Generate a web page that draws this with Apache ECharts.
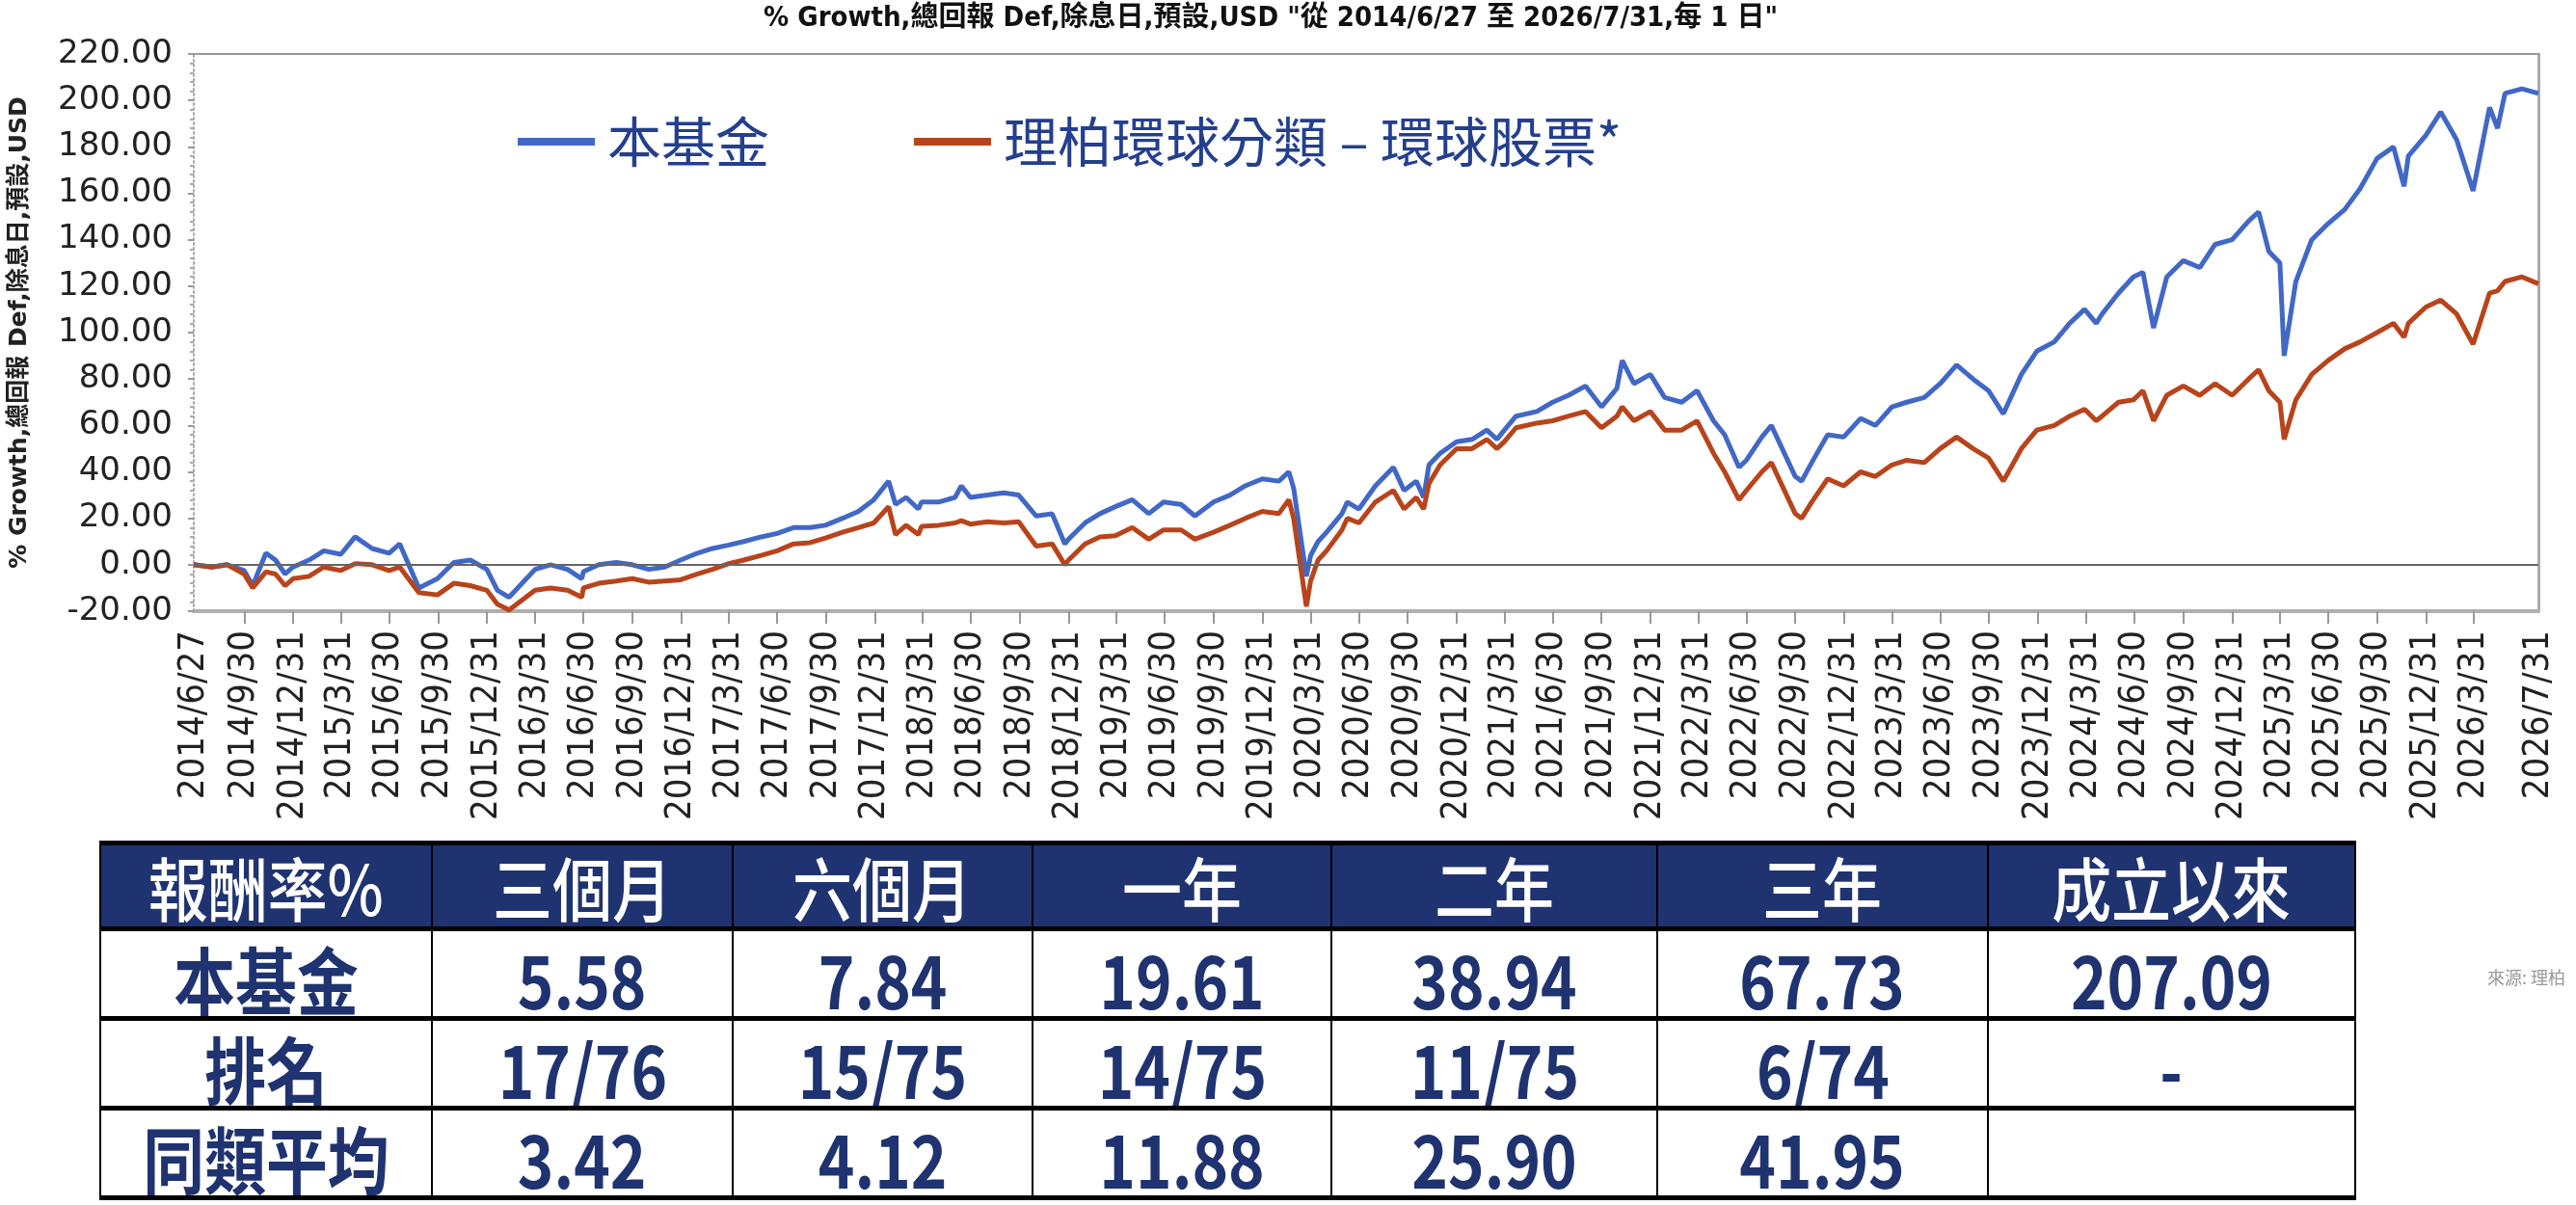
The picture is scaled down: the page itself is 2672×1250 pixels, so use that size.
<!DOCTYPE html>
<html>
<head>
<meta charset="utf-8">
<script src="https://cdn.jsdelivr.net/npm/echarts@6/dist/echarts.min.js"></script>
<style>
  html,body{margin:0;padding:0;background:#fff;}
  #wrap{position:relative;width:2672px;height:1250px;overflow:hidden;}
  #chart{position:absolute;left:0;top:0;width:2672px;height:1250px;}
  #tbl{position:absolute;left:103px;top:872px;border-collapse:collapse;table-layout:fixed;width:2339px;
       font-family:"Noto Sans CJK TC","Noto Sans CJK SC",sans-serif;}
  #tbl td{border-left:2px solid #000;border-right:2px solid #000;border-top:5px solid #000;border-bottom:5px solid #000;
          text-align:center;vertical-align:middle;padding:0;line-height:1;overflow:hidden;white-space:nowrap;}
  #tbl td span{display:inline-block;}
  #tbl tr.h td{background:#1f3370;color:#fff;font-size:72px;font-weight:500;height:84px;}
  #tbl tr.h td span{transform:scaleX(0.86);}
  #tbl tr.b td{background:#fff;color:#1f3370;font-size:76px;font-weight:700;height:88px;}
  #tbl tr.b td span{transform:translateY(4px) scaleX(0.84);}
  #src{position:absolute;left:2580px;top:1000px;font-family:"Noto Sans CJK TC",sans-serif;font-size:18px;color:#999;}
</style>
</head>
<body>
<div id="wrap">
  <div id="chart"></div>
  <table id="tbl"></table>
  <div id="src">來源: 理柏</div>
</div>
<script>
// ---------- data ----------
const seriesNames = ['本基金', '理柏環球分類 – 環球股票*'];
const dates = [
 '2014/6/27','2014/7/31','2014/8/29','2014/9/30','2014/10/16','2014/11/10','2014/11/28','2014/12/16','2014/12/31',
 '2015/1/30','2015/2/27','2015/3/31','2015/4/27','2015/5/29','2015/6/30','2015/7/20','2015/8/25','2015/9/29','2015/10/30','2015/11/30','2015/12/31',
 '2016/1/20','2016/2/11','2016/3/31','2016/4/29','2016/5/31','2016/6/27','2016/6/30','2016/7/29','2016/8/31','2016/9/30','2016/10/31','2016/11/30','2016/12/30',
 '2017/1/31','2017/2/28','2017/3/31','2017/4/28','2017/5/31','2017/6/30','2017/7/31','2017/8/31','2017/9/29','2017/10/31','2017/11/30','2017/12/29',
 '2018/1/26','2018/2/8','2018/2/28','2018/3/23','2018/3/29','2018/4/30','2018/5/31','2018/6/12','2018/6/29','2018/7/31','2018/8/31','2018/9/28','2018/10/31','2018/11/30','2018/12/24','2018/12/31',
 '2019/1/31','2019/2/28','2019/3/29','2019/4/30','2019/5/31','2019/6/28','2019/7/31','2019/8/26','2019/9/30','2019/10/31','2019/11/29','2019/12/31',
 '2020/1/31','2020/2/19','2020/2/28','2020/3/23','2020/3/31','2020/4/14','2020/4/30','2020/5/29','2020/6/8','2020/6/30','2020/7/31','2020/9/3','2020/9/23','2020/10/16','2020/10/30','2020/11/9','2020/11/30','2020/12/31',
 '2021/1/29','2021/2/26','2021/3/17','2021/3/31','2021/4/22','2021/5/31','2021/6/30','2021/7/30','2021/8/31','2021/9/30','2021/10/29','2021/11/8','2021/11/30','2021/12/31',
 '2022/1/27','2022/2/28','2022/3/29','2022/4/29','2022/5/20','2022/6/16','2022/6/30','2022/7/29','2022/8/16','2022/9/30','2022/10/12','2022/10/31','2022/11/30','2022/12/30',
 '2023/1/31','2023/2/28','2023/3/31','2023/4/28','2023/5/31','2023/6/30','2023/7/31','2023/8/31','2023/9/29','2023/10/27','2023/11/30','2023/12/29',
 '2024/1/31','2024/2/29','2024/3/28','2024/4/19','2024/4/30','2024/5/31','2024/6/28','2024/7/16','2024/8/5','2024/8/30','2024/9/30','2024/10/31','2024/11/29','2024/12/31',
 '2025/1/31','2025/2/19','2025/3/10','2025/3/31','2025/4/8','2025/4/30','2025/5/30','2025/6/30','2025/7/31','2025/8/29','2025/9/30','2025/10/31','2025/11/20','2025/11/28','2025/12/31',
 '2026/1/28','2026/2/27','2026/3/30','2026/4/30','2026/5/15','2026/5/29','2026/6/30','2026/7/31'
];
const fundValues = [
 0,-1,0,-2.5,-9,5,2,-4,-1,
 2,6,4.5,12,7,5,9,-10,-6,1,2,-2,
 -11,-14,-2,0,-2,-6,-3,0,1,0,-2,-1,2,
 5,7,8.5,10,12,13.5,16,16,17,20,23,28,
 36,26,29,24,27,27,29,34,29,30,31,30,21,22,9,11,
 18,22,25,28,22,27,26,21,27,30,34,37,
 36,40,33,-5,4,10,14,22,27,24,34,42,32,36,29,43,48,53,
 54,58,54,58,64,66,70,73,77,68,76,88,78,82,
 72,70,75,62,56,42,45,55,60,38,36,44,56,55,
 63,60,68,70,72,78,86,80,75,65,82,92,
 96,104,110,104,108,117,124,126,102,124,131,128,138,140,
 148,152,135,130,90,122,140,147,153,162,175,180,163,176,185,
 195,183,161,197,188,203,205,203
];
const peerValues = [
 0,-1,0,-4,-10,-3,-4,-9,-6,
 -5,-1,-2.5,0.5,0,-2.5,-1,-12,-13,-8,-9,-11,
 -17,-19.5,-11,-10,-11,-14,-10,-8,-7,-6,-7.5,-7,-6.5,
 -4,-2,0.5,2,4,6,9,9.5,11.5,14,16,18,
 25,13,17,13,16.5,17,18,19,17.5,18.5,18,18.5,8,9,0,2,
 9,12,12.5,16,11,15,15,11,14,17,20,23,
 22,28,20,-18,-7,2,6,15,20,18,27,32,24,29,24,35,43,50,
 50,54,50,53,59,61,62,64,66,59,64,68,62,66,
 58,58,62,48,40,28,32,40,44,22,20,27,37,34,
 40,38,43,45,44,50,55,50,46,36,50,58,
 60,64,67,62,64,70,71,75,62,73,77,73,78,73,
 80,84,75,70,54,71,82,88,93,96,100,104,98,104,111,
 114,108,95,117,118,122,124,121
];
const xTickLabels = [
 '2014/6/27','2014/9/30','2014/12/31','2015/3/31','2015/6/30','2015/9/30','2015/12/31',
 '2016/3/31','2016/6/30','2016/9/30','2016/12/31','2017/3/31','2017/6/30','2017/9/30','2017/12/31',
 '2018/3/31','2018/6/30','2018/9/30','2018/12/31','2019/3/31','2019/6/30','2019/9/30','2019/12/31',
 '2020/3/31','2020/6/30','2020/9/30','2020/12/31','2021/3/31','2021/6/30','2021/9/30','2021/12/31',
 '2022/3/31','2022/6/30','2022/9/30','2022/12/31','2023/3/31','2023/6/30','2023/9/30','2023/12/31',
 '2024/3/31','2024/6/30','2024/9/30','2024/12/31','2025/3/31','2025/6/30','2025/9/30','2025/12/31',
 '2026/3/31','2026/7/31'
];
const tableHeader = ['報酬率%','三個月','六個月','一年','二年','三年','成立以來'];
const tableRows = [
 ['本基金','5.58','7.84','19.61','38.94','67.73','207.09'],
 ['排名','17/76','15/75','14/75','11/75','6/74','-'],
 ['同類平均','3.42','4.12','11.88','25.90','41.95','']
];
const colWidths = [344,312,311,310,338,343,381];

// ---------- table ----------
(function(){
  const t = document.getElementById('tbl');
  let html = '<colgroup>' + colWidths.map(w=>'<col style="width:'+w+'px">').join('') + '</colgroup>';
  html += '<tr class="h">' + tableHeader.map(c=>'<td><span>'+c+'</span></td>').join('') + '</tr>';
  tableRows.forEach(r=>{ html += '<tr class="b">' + r.map(c=>'<td><span>'+c+'</span></td>').join('') + '</tr>'; });
  t.innerHTML = html;
})();

// ---------- chart ----------
function parseD(s){ const p = s.split('/').map(Number); return Date.UTC(p[0], p[1]-1, p[2]); }
const tMin = parseD(xTickLabels[0]);
const tMax = parseD(xTickLabels[xTickLabels.length-1]);
const labelMap = {};
xTickLabels.forEach(s => { labelMap[parseD(s)] = s; });
const labelValues = xTickLabels.map(parseD);
const tickValues = labelValues.slice(1, labelValues.length-1);

const fundData = dates.map((d,i)=>[parseD(d), fundValues[i]]);
const peerData = dates.map((d,i)=>[parseD(d), peerValues[i]]);

const chart = echarts.init(document.getElementById('chart'), null, {renderer:'canvas'});
chart.setOption({
  animation: false,
  backgroundColor: '#fff',
  title: {
    text: '% Growth,總回報 Def,除息日,預設,USD "從 2014/6/27 至 2026/7/31,每 1 日"',
    left: 787, top: 0,
    textStyle: {fontSize: 29, fontWeight: 'bold', color: '#111',
      fontFamily: '"DejaVu Sans Condensed","Noto Sans CJK TC",sans-serif'}
  },
  legend: {
    left: 532, top: 112,
    icon: 'rect', itemWidth: 80, itemHeight: 8, itemGap: 150,
    data: seriesNames,
    textStyle: {fontSize: 56, color: '#233f8e', fontFamily: '"Noto Sans CJK TC",sans-serif', padding: [0,0,0,8], lineHeight: 60}
  },
  grid: {left: 199, right: 39, top: 56, bottom: 616, containLabel: false},
  xAxis: [{
    type: 'value', min: tMin, max: tMax,
    axisLine: {show: true, onZero: false, lineStyle: {color: '#b0b0b0', width: 4}},
    axisTick: {show: true, customValues: tickValues, length: 13, lineStyle: {color: '#999', width: 2}},
    axisLabel: {
      show: true, customValues: labelValues, rotate: 90, margin: 20, hideOverlap: false,
      showMinLabel: true, showMaxLabel: true,
      fontSize: 38, color: '#222', fontFamily: '"DejaVu Sans Condensed","DejaVu Sans",sans-serif',
      formatter: v => labelMap[v] || ''
    },
    splitLine: {show: false}
  }, {
    type: 'value', position: 'top', min: tMin, max: tMax,
    axisLine: {show: true, onZero: false, lineStyle: {color: '#999', width: 2}},
    axisTick: {show: false}, axisLabel: {show: false}, splitLine: {show: false}
  }],
  yAxis: [{
    type: 'value', min: -20, max: 220, interval: 20,
    name: '% Growth,總回報 Def,除息日,預設,USD',
    nameLocation: 'middle', nameGap: 168, nameRotate: 90,
    nameTextStyle: {fontSize: 25, fontWeight: 'bold', color: '#222', fontFamily: '"DejaVu Sans","Noto Sans CJK TC",sans-serif'},
    axisLine: {show: true, onZero: false, lineStyle: {color: '#aaa', width: 2, type: [2,3]}},
    axisTick: {show: true, length: 6, lineStyle: {color: '#999', width: 2}},
    minorTick: {show: true, splitNumber: 5, length: 4, lineStyle: {color: '#aaa', width: 2}},
    axisLabel: {fontSize: 34, color: '#222', margin: 22, fontFamily: '"DejaVu Sans",sans-serif',
      formatter: v => v.toFixed(2)},
    splitLine: {show: false}
  }, {
    type: 'value', position: 'right', min: -20, max: 220,
    axisLine: {show: true, onZero: false, lineStyle: {color: '#aaa', width: 3}},
    axisTick: {show: false}, axisLabel: {show: false}, splitLine: {show: false}
  }],
  series: [{
    name: seriesNames[0], type: 'line', data: fundData, showSymbol: false,
    lineStyle: {width: 5, color: '#4168c6'}, itemStyle: {color: '#4168c6'},
    markLine: {silent: true, symbol: 'none', label: {show: false},
      lineStyle: {color: '#666', width: 2, type: 'solid'}, data: [{yAxis: 0}]}
  }, {
    name: seriesNames[1], type: 'line', data: peerData, showSymbol: false,
    lineStyle: {width: 5, color: '#b8441c'}, itemStyle: {color: '#b8441c'}
  }]
});
</script>
</body>
</html>
